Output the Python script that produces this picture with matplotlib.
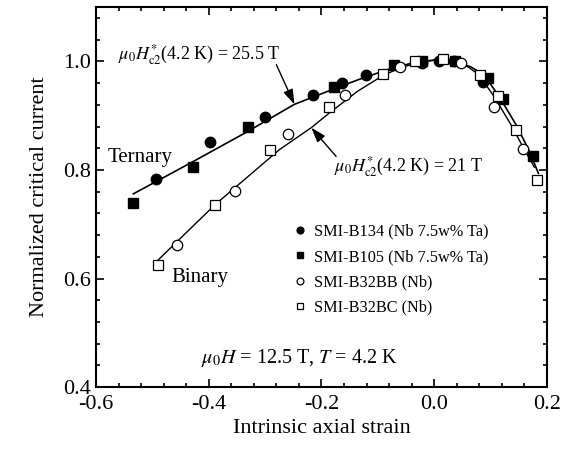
import matplotlib
matplotlib.use('Agg')
import matplotlib.pyplot as plt
from matplotlib.ticker import MultipleLocator

plt.rcParams['font.family'] = ['Liberation Serif', 'DejaVu Serif']
plt.rcParams['mathtext.fontset'] = 'stix'

# measured points
b134_x = [-0.494, -0.397, -0.300, -0.215, -0.164, -0.121, -0.021, 0.008, 0.035, 0.087]
b134_y = [0.784, 0.852, 0.898, 0.939, 0.961, 0.975, 0.998, 1.000, 1.000, 0.962]

b105_x = [-0.534, -0.428, -0.330, -0.177, -0.071, -0.021, 0.037, 0.095, 0.123, 0.175]
b105_y = [0.739, 0.806, 0.879, 0.953, 0.993, 1.000, 1.000, 0.970, 0.930, 0.826]

bb_x = [-0.456, -0.353, -0.259, -0.158, -0.061, 0.048, 0.106, 0.158]
bb_y = [0.661, 0.761, 0.867, 0.939, 0.990, 0.997, 0.916, 0.839]

bc_x = [-0.490, -0.389, -0.291, -0.186, -0.090, -0.034, 0.016, 0.082, 0.114, 0.146, 0.183]
bc_y = [0.625, 0.736, 0.836, 0.916, 0.977, 1.000, 1.004, 0.975, 0.936, 0.873, 0.782]

# fitted curves
tern_x = [-0.534, -0.434, -0.336, -0.248, -0.174, -0.133, -0.074, -0.035, 0.003,
          0.040, 0.065, 0.088, 0.115, 0.145, 0.168, 0.185]
tern_y = [0.756, 0.812, 0.868, 0.921, 0.951, 0.967, 0.988, 0.998, 1.003,
          0.999, 0.990, 0.976, 0.936, 0.884, 0.837, 0.794]

bin_x = [-0.490, -0.389, -0.310, -0.274, -0.218, -0.186, -0.136, -0.091, -0.056,
         -0.020, 0.003, 0.040, 0.060, 0.079, 0.106, 0.136, 0.162, 0.178]
bin_y = [0.634, 0.736, 0.806, 0.838, 0.878, 0.905, 0.945, 0.974, 0.990,
         0.999, 1.003, 0.998, 0.990, 0.976, 0.936, 0.884, 0.834, 0.805]

fig = plt.figure(figsize=(5.62, 4.49), dpi=100)
ax = fig.add_axes([0.171, 0.138, 0.802, 0.846])

ax.plot(tern_x, tern_y, color='black', lw=1.2, zorder=2)
ax.plot(bin_x, bin_y, color='black', lw=1.0, zorder=2)

ms = 7.5
h1, = ax.plot(b134_x, b134_y, 'o', ms=ms, mfc='black', mec='black', ls='none', zorder=3,
              label='SMI-B134 (Nb 7.5w% Ta)')
h2, = ax.plot(b105_x, b105_y, 's', ms=ms-1, mfc='black', mec='black', ls='none', zorder=3,
              label='SMI-B105 (Nb 7.5w% Ta)')
h3, = ax.plot(bb_x, bb_y, 'o', ms=ms, mfc='white', mec='black', mew=0.9, ls='none', zorder=4,
              label='SMI-B32BB (Nb)')
h4, = ax.plot(bc_x, bc_y, 's', ms=ms-1, mfc='white', mec='black', mew=0.9, ls='none', zorder=4,
              label='SMI-B32BC (Nb)')

ax.set_xlim(-0.6, 0.2)
ax.set_ylim(0.4, 1.1)
ax.xaxis.set_minor_locator(MultipleLocator(0.04))
ax.yaxis.set_minor_locator(MultipleLocator(0.04))
ax.set_xticks([-0.6, -0.4, -0.2, 0.0, 0.2])
ax.set_xticklabels(['-0.6', '-0.4', '-0.2', '0.0', '0.2'])
ax.set_yticks([0.4, 0.6, 0.8, 1.0])
ax.set_yticklabels(['0.4', '0.6', '0.8', '1.0'])
ax.tick_params(which='both', direction='in', top=True, right=True, labelsize=16, width=1.2)
ax.tick_params(which='major', length=6)
ax.tick_params(which='minor', length=3)
ax.tick_params(axis='x', pad=6)
for s in ax.spines.values():
    s.set_linewidth(1.5)

ax.set_xlabel('Intrinsic axial strain', fontsize=16, labelpad=3)
ax.set_ylabel('Normalized critical current', fontsize=16, labelpad=10)

ax.text(-0.561, 1.004, r'$\mu_0H_{\mathrm{c2}}^{*}$(4.2 K) = 25.5 T', fontsize=13, va='baseline')
ax.text(-0.177, 0.797, r'$\mu_0H_{\mathrm{c2}}^{*}$(4.2 K) = 21 T', fontsize=13, va='baseline')
ax.text(-0.580, 0.815, 'Ternary', fontsize=15, va='baseline')
ax.text(-0.466, 0.594, 'Binary', fontsize=15, va='baseline')
ax.text(-0.413, 0.444, r'$\mu_0H$ = 12.5 T, $T$ = 4.2 K', fontsize=14.5, va='baseline')

arrow = dict(arrowstyle='-|>,head_length=0.9,head_width=0.3', color='black', lw=1.0,
             shrinkA=0, shrinkB=0)
ax.annotate('', xy=(-0.248, 0.921), xytext=(-0.280, 0.994), arrowprops=arrow)
ax.annotate('', xy=(-0.218, 0.878), xytext=(-0.174, 0.825), arrowprops=arrow)

ax.legend(handles=[h1, h2, h3, h4], loc='upper left', bbox_to_anchor=(0.419, 0.451),
          frameon=False, fontsize=11.7, markerscale=0.65, handlelength=0.8,
          handletextpad=0.5, labelspacing=0.57, borderpad=0)

fig.savefig('out.png', dpi=100)
